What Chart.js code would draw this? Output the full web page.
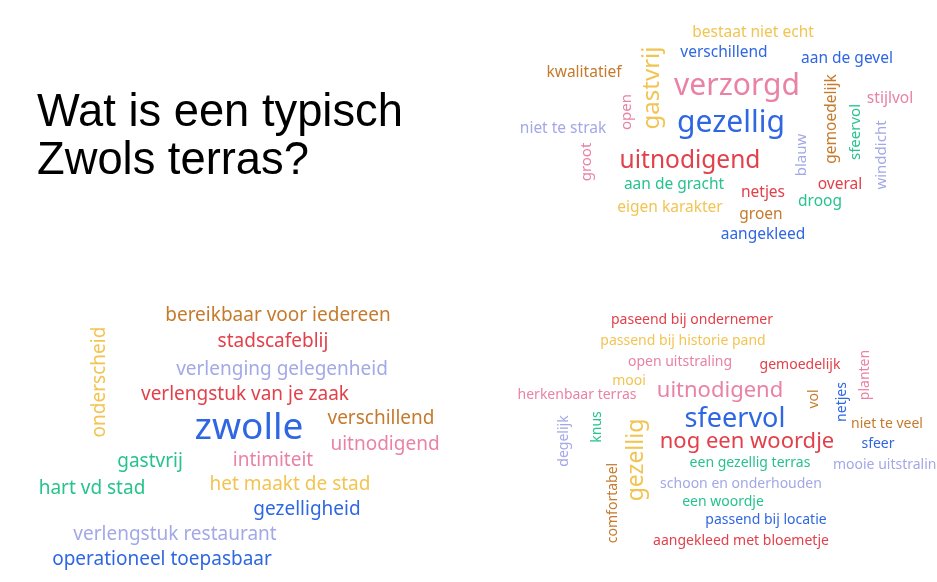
<!DOCTYPE html>
<html>
<head>
<meta charset="utf-8">
<script src="https://cdn.jsdelivr.net/npm/chart.js@4"></script>
<style>
  html, body { margin: 0; padding: 0; background: #fff; }
  .wrap { position: relative; width: 937px; height: 582px; }
  .title {
    position: absolute; left: 37px; top: 87px;
    font-family: "Liberation Sans", Arial, sans-serif;
    font-size: 45.3px; line-height: 48px; color: #000;
  }
</style>
</head>
<body>
<div class="wrap">
  <canvas id="cloudChart" width="937" height="582"></canvas>
  <div class="title">Wat is een typisch<br>Zwols terras?</div>
</div>
<script>
// word cloud 1 (top right)
var words1 = ['bestaat niet echt', 'verschillend', 'aan de gevel', 'kwalitatief', 'gastvrij', 'verzorgd', 'gezellig', 'open',
  'niet te strak', 'groot', 'uitnodigend', 'aan de gracht', 'eigen karakter', 'netjes', 'groen', 'aangekleed',
  'blauw', 'overal', 'droog', 'gemoedelijk', 'sfeervol', 'stijlvol', 'winddicht'];
var x1 = [753, 724, 847, 584, 652, 737, 731, 627, 563, 587, 690, 674, 670, 763, 761, 763, 802, 840, 820, 832, 856, 890, 882];
var y1 = [31, 51, 57, 71, 88, 85, 122, 112, 127, 162, 160, 183, 206, 191, 213, 233, 155, 183, 200, 119, 132, 97, 155];
var weight1 = [15.5, 15.5, 15.5, 15.5, 24, 30, 30, 15, 15.5, 15, 24.5, 15.5, 15.5, 15.5, 15.5, 15.5, 15, 15.5, 15.5, 15.5, 15, 15.5, 15];
var color1 = ['yellow', 'blue', 'blue', 'brown', 'yellow', 'pink', 'blue', 'pink', 'lavender', 'pink', 'red', 'green', 'yellow',
  'red', 'brown', 'blue', 'lavender', 'red', 'green', 'brown', 'green', 'pink', 'lavender'];
var up1 = [0, 0, 0, 0, 1, 0, 0, 1, 0, 1, 0, 0, 0, 0, 0, 0, 1, 0, 0, 1, 1, 0, 1];

// word cloud 2 (bottom left)
var words2 = ['bereikbaar voor iedereen', 'stadscafeblij', 'verlenging gelegenheid', 'verlengstuk van je zaak', 'onderscheid',
  'zwolle', 'verschillend', 'uitnodigend', 'gastvrij', 'intimiteit', 'hart vd stad', 'het maakt de stad', 'gezelligheid',
  'verlengstuk restaurant', 'operationeel toepasbaar'];
var x2 = [278, 273, 282, 245, 100, 249, 381, 385, 150, 273, 92, 290, 307, 175, 162];
var y2 = [314, 340, 368, 393, 382, 427, 417, 443, 460, 459, 487, 483, 508, 533, 558];
var weight2 = [19, 19, 19, 19, 19, 37, 19, 19, 19, 19, 19, 19, 19, 19, 19];
var color2 = ['brown', 'red', 'lavender', 'red', 'yellow', 'blue', 'brown', 'pink', 'green', 'pink', 'green', 'yellow', 'blue',
  'lavender', 'blue'];
var up2 = [0, 0, 0, 0, 1, 0, 0, 0, 0, 0, 0, 0, 0, 0, 0];

// word cloud 3 (bottom right)
var words3 = ['paseend bij ondernemer', 'passend bij historie pand', 'open uitstraling', 'gemoedelijk', 'mooi', 'herkenbaar terras',
  'uitnodigend', 'vol', 'netjes', 'planten', 'sfeervol', 'nog een woordje', 'niet te veel', 'sfeer', 'mooie uitstraling',
  'degelijk', 'knus', 'gezellig', 'comfortabel', 'een gezellig terras', 'schoon en onderhouden', 'een woordje',
  'passend bij locatie', 'aangekleed met bloemetje'];
var x3 = [692, 683, 680, 800, 629, 577, 720, 814, 842, 865, 735, 747, 887, 878, 889, 564, 597, 636, 613, 750, 741, 723, 766, 741];
var y3 = [319, 340, 361, 364, 380, 394, 389, 399, 402, 375, 418, 440, 423, 443, 464, 441, 427, 460, 503, 462, 483, 501, 519, 540];
var weight3 = [14, 14, 14, 14, 14, 14, 22, 14, 14, 14, 27, 22, 14, 14, 14, 14, 14, 23, 14, 14, 14, 14, 14, 14];
var color3 = ['red', 'yellow', 'pink', 'red', 'yellow', 'pink', 'pink', 'brown', 'blue', 'pink', 'blue', 'red', 'brown', 'blue',
  'lavender', 'lavender', 'green', 'yellow', 'brown', 'green', 'lavender', 'green', 'blue', 'red'];
var up3 = [0, 0, 0, 0, 0, 0, 0, 1, 1, 1, 0, 0, 0, 0, 0, 1, 1, 1, 1, 0, 0, 0, 0, 0];

var palette = {
  blue: '#2f67e2', pink: '#ea82a6', red: '#e2404a', yellow: '#f2c452', brown: '#c57a2c',
  green: '#26c38c', lavender: '#a3a8e6'
};

function cloudData(words, xs, ys, weights, colors, ups) {
  return words.map(function (w, i) {
    return { x: xs[i], y: ys[i], text: w, size: weights[i], color: palette[colors[i]], up: ups[i] };
  });
}

var wordPlugin = {
  id: 'words',
  afterDatasetsDraw: function (chart) {
    var ctx = chart.ctx;
    chart.data.datasets.forEach(function (ds, di) {
      var meta = chart.getDatasetMeta(di);
      meta.data.forEach(function (pt, i) {
        var d = ds.data[i];
        ctx.save();
        ctx.translate(pt.x, pt.y);
        if (d.up) ctx.rotate(-Math.PI / 2);
        ctx.font = d.size + 'px "Noto Sans", sans-serif';
        ctx.fillStyle = d.color;
        ctx.textAlign = 'center';
        ctx.textBaseline = 'middle';
        // noto sits a bit high on 'middle'
        ctx.fillText(d.text, 0, d.up ? 0 : 1.5);
        ctx.restore();
      });
    });
  }
};

new Chart(document.getElementById('cloudChart'), {
  type: 'scatter',
  data: {
    datasets: [
      { label: 'cloud 1', data: cloudData(words1, x1, y1, weight1, color1, up1) },
      { label: 'cloud 2', data: cloudData(words2, x2, y2, weight2, color2, up2) },
      { label: 'cloud 3', data: cloudData(words3, x3, y3, weight3, color3, up3) }
    ]
  },
  options: {
    responsive: false,
    animation: false,
    layout: { padding: 0 },
    elements: { point: { radius: 0, hoverRadius: 0 } },
    plugins: { legend: { display: false }, tooltip: { enabled: false } },
    scales: {
      x: { type: 'linear', min: 0, max: 937, display: false },
      y: { type: 'linear', min: 0, max: 582, reverse: true, display: false }
    }
  },
  plugins: [wordPlugin]
});
</script>
</body>
</html>
